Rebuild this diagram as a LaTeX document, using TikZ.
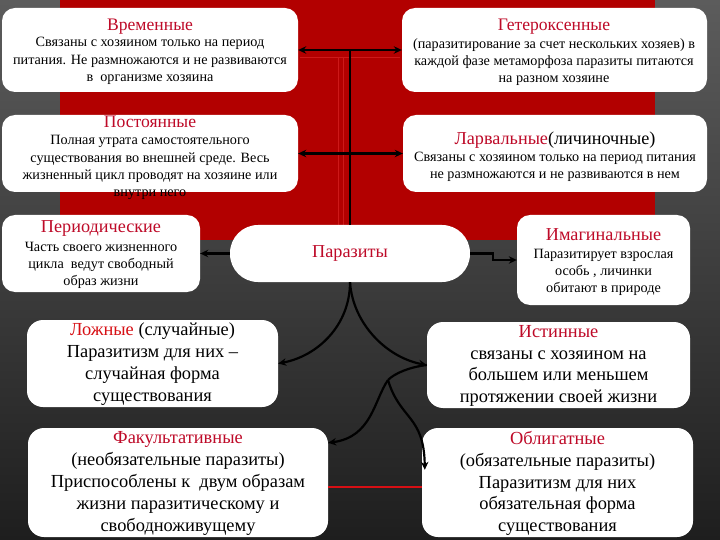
\documentclass[tikz,border=0pt]{standalone}
\usepackage{fontspec}
\setmainfont{Liberation Serif}
\usetikzlibrary{arrows.meta,calc}
\definecolor{slidered}{RGB}{178,0,0}
\definecolor{tred}{RGB}{190,10,40}
\definecolor{bred}{RGB}{215,15,20}
\definecolor{lred}{RGB}{205,25,25}
\definecolor{bgtop}{RGB}{92,92,92}
\definecolor{bgbot}{RGB}{30,30,30}
\begin{document}
\begin{tikzpicture}[x=1pt,y=-1pt,
  box/.style={fill=white,rounded corners=13pt,inner sep=0pt},
  ttl/.style={text=tred,inner sep=0pt,font=\fontsize{17.6}{20}\selectfont},
  ttlb/.style={text=tred,inner sep=0pt,font=\fontsize{18.2}{21}\selectfont},
  small/.style={align=center,inner sep=0pt,font=\fontsize{14.2}{17.2}\selectfont},
  big/.style={align=center,inner sep=0pt,font=\fontsize{18.4}{21.8}\selectfont},
  conn/.style={line width=2.2pt,black},
  arr/.style={conn,-{Stealth[length=8pt,width=7.5pt]}},
  darr/.style={conn,{Stealth[length=8pt,width=7.5pt]}-{Stealth[length=8pt,width=7.5pt]}}]
\useasboundingbox (0,0) rectangle (720,540);
% background
\shade[top color=bgtop,bottom color=bgbot] (0,0) rectangle (720,540);
\fill[slidered] (60,0) rectangle (655,240);
\draw[lred,line width=0.8pt] (338,57) -- (338,240) (343,57) -- (343,240) (300,57) -- (400,57);
% boxes
\node[box,minimum width=296pt,minimum height=84pt] (vr) at (150,50) {};
\node[box,minimum width=305pt,minimum height=84pt] (get) at (554.5,50) {};
\node[box,minimum width=296pt,minimum height=77pt] (post) at (150,153.5) {};
\node[box,minimum width=304pt,minimum height=77pt] (larv) at (555,153.5) {};
\node[box,minimum width=198pt,minimum height=77pt] (per) at (101,253.5) {};
\node[box,rounded corners=28pt,minimum width=240pt,minimum height=57pt] (par) at (350,253.5) {};
\node[box,minimum width=173pt,minimum height=90pt] (imag) at (603.5,260) {};
\node[box,rounded corners=16pt,minimum width=251pt,minimum height=87pt] (lozh) at (152.5,363.5) {};
\node[box,rounded corners=16pt,minimum width=263pt,minimum height=86pt] (ist) at (558.5,365) {};
\node[box,rounded corners=16pt,minimum width=300pt,minimum height=109pt] (fak) at (178,482.5) {};
\node[box,rounded corners=16pt,minimum width=271pt,minimum height=109pt] (obl) at (557.5,482.5) {};
\draw[bred,line width=2pt] ([yshift=-4.5pt]fak.east) -- ([yshift=-4.5pt]obl.west);
% texts
\node[ttl] (vrt) at (150,27) {Временные};
\node[small] (vrb) at (150,61) {Связаны с хозяином только на период\\питания. Не размножаются и не развиваются\\в\ \ организме хозяина};
\node[ttl] (gett) at (554,27) {Гетероксенные};
\node[small] (getb) at (554,62) {(паразитирование за счет нескольких хозяев) в\\каждой фазе метаморфоза паразиты питаются\\на разном хозяине};
\node[ttl] (postt) at (150,122) {Постоянные};
\node[small] (postb) at (150,167.5) {Полная утрата самостоятельного\\существования во внешней среде. Весь\\жизненный цикл проводят на хозяине или\\внутри него};
\node[ttlb,text=black] (larvt) at (555,140) {\textcolor{tred}{Ларвальные}(личиночные)};
\node[small] (larvb) at (555,166.5) {Связаны с хозяином только на период питания\\не размножаются и не развиваются в нем};
\node[ttlb] (pert) at (101,228) {Периодические};
\node[small] (perb) at (101,265.5) {Часть своего жизненного\\цикла\ \ ведут свободный\\образ жизни};
\node[ttlb] (part) at (350,253) {Паразиты};
\node[ttlb] (imagt) at (603.5,235) {Имагинальные};
\node[small] (imagb) at (603.5,272.5) {Паразитирует взрослая\\особь , личинки\\обитают в природе};
\node[big] (lozht) at (152.5,364) {\textcolor{bred}{Ложные} (случайные)\\Паразитизм для них –\\случайная форма\\существования};
\node[big] (istt) at (558.5,366) {\textcolor{tred}{Истинные}\\связаны с хозяином на\\большем или меньшем\\протяжении своей жизни};
\node[big] (fakt) at (178,483.5) {\textcolor{tred}{Факультативные}\\(необязательные паразиты)\\Приспособлены к\ \ двум образам\\жизни паразитическому и\\свободноживущему};
\node[big] (oblt) at (557.5,483.5) {\textcolor{tred}{Облигатные}\\(обязательные паразиты)\\Паразитизм для них\\обязательная форма\\существования};
% connectors
\draw[darr] (vr.east) -- (get.west);
\draw[darr] (post.east) -- (larv.west);
\draw[conn] (par.north) -- (par.north |- vr.east);
\draw[arr] (par.west) -- (per.east);
\draw[arr] (par.east) -- ++(23,0) |- (imag.west);
\draw[arr] (par.south) .. controls (350,325) and (318,356) .. (lozh.east);
\draw[arr] (par.south) .. controls (353,325) and (388,358) .. (ist.west);
\coordinate (j) at (388,380);
\draw[conn] (ist.west) .. controls (410,367) and (395,373) .. (j);
\draw[arr] (j) .. controls (374,400) and (372,437) .. ([yshift=-15pt]fak.north east);
\draw[arr] (j) .. controls (400,420) and (424,415) .. ([xshift=3pt,yshift=-42pt]obl.north west);
\end{tikzpicture}
\end{document}
